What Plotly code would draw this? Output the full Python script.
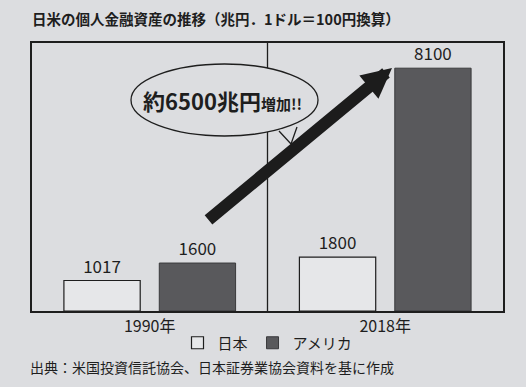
import plotly.graph_objects as go

years = ["1990年", "2018年"]
japan = [1017, 1800]
usa = [1600, 8100]
series_names = ["日本", "アメリカ"]
title_text = "日米の個人金融資産の推移（兆円．1ドル＝100円換算）"
bubble_text = "約6500兆円<span style='font-size:15px'>増加!!</span>"
source_text = "出典：米国投資信託協会、日本証券業協会資料を基に作成"

BG = "#dcdde0"
INK = "#1e1e1e"
FONT = "Noto Sans CJK JP"

W, H = 526, 387
L, R, T, B = 32, 23, 43, 76
pw, ph = W - L - R, H - T - B


def px(x):
    return (x - L) / pw


def py(y):
    return (H - B - y) / ph


fig = go.Figure()
fig.add_trace(go.Bar(
    x=years, y=japan, name=series_names[0],
    marker=dict(color="#e6e7e9", line=dict(color=INK, width=1.2)),
    text=[str(v) for v in japan], textposition="outside",
    textfont=dict(size=17, color=INK, family=FONT), cliponaxis=False,
))
fig.add_trace(go.Bar(
    x=years, y=usa, name=series_names[1],
    marker=dict(color="#59595c", line=dict(color="#3a3a3c", width=1)),
    text=[str(v) for v in usa], textposition="outside",
    textfont=dict(size=17, color=INK, family=FONT), cliponaxis=False,
))

shapes = []
# divider between the two periods
shapes.append(dict(type="line", xref="x", yref="paper", x0=0.5, x1=0.5, y0=0, y1=1,
                   line=dict(color=INK, width=1.3), layer="above"))
# speech bubble
shapes.append(dict(type="circle", xref="paper", yref="paper",
                   x0=px(131), x1=px(318), y0=py(136), y1=py(64),
                   fillcolor=BG, line=dict(color=INK, width=1.3), layer="above"))
# tail cover and tail edges
shapes.append(dict(type="path", xref="paper", yref="paper",
                   path=f"M {px(279)},{py(130)} L {px(291)},{py(144)} L {px(297)},{py(127)} Z",
                   fillcolor=BG, line=dict(width=0), layer="above"))
shapes.append(dict(type="path", xref="paper", yref="paper",
                   path=f"M {px(279)},{py(131)} L {px(291)},{py(144)} L {px(297)},{py(127)}",
                   line=dict(color=INK, width=1.3), layer="above"))

fig.update_layout(
    width=W, height=H,
    margin=dict(l=L, r=R, t=T, b=B, autoexpand=False),
    paper_bgcolor=BG, plot_bgcolor=BG,
    font=dict(family=FONT, color=INK),
    barmode="group", bargap=0.19, bargroupgap=0.2,
    title=dict(text=title_text, x=L / W, xanchor="left", y=1 - 20 / H, yanchor="middle",
               font=dict(size=14.5, family=FONT, color=INK, weight=700)),
    xaxis=dict(type="category", range=[-0.5, 1.5], showline=True, mirror=True,
               linecolor=INK, linewidth=1.5, ticks="", tickfont=dict(size=16, color=INK),
               showgrid=False, zeroline=False),
    yaxis=dict(range=[0, 8940], showline=True, mirror=True, linecolor=INK, linewidth=1.5,
               showticklabels=False, ticks="", showgrid=False, zeroline=False),
    showlegend=True,
    legend=dict(orientation="h", x=0.5, xanchor="center", y=py(343), yanchor="middle",
                font=dict(size=15, color=INK), bgcolor="rgba(0,0,0,0)",
                itemwidth=30, traceorder="normal"),
    shapes=shapes,
    annotations=[
        dict(xref="x domain", yref="y domain", x=px(392), y=py(68),
             axref="x domain", ayref="y domain", ax=px(207), ay=py(221),
             text="", showarrow=True, arrowhead=2, arrowsize=0.5, arrowwidth=12,
             arrowcolor="#1c1c1c"),
        dict(xref="paper", yref="paper", x=px(222), y=py(100), xanchor="center",
             yanchor="middle", text=bubble_text,
             showarrow=False, font=dict(size=22, color=INK, family=FONT, weight=600)),
        dict(xref="paper", yref="paper", x=px(28), y=py(367), xanchor="left", yanchor="middle",
             text=source_text, showarrow=False, font=dict(size=14, color=INK, family=FONT)),
    ],
)

fig.write_html("out.html", config={"displayModeBar": False},
               post_script="document.body.style.margin='0';")
